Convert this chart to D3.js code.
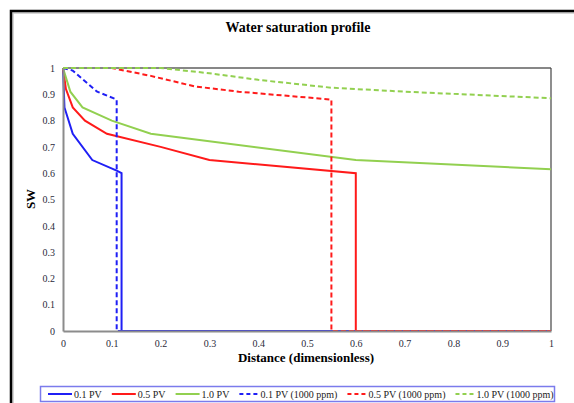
<!DOCTYPE html>
<html>
<head>
<meta charset="utf-8">
<script src="https://cdn.jsdelivr.net/npm/d3@7"></script>
<style>
  body { margin: 0; background: #fff; }
  svg text { font-family: "Liberation Serif", "DejaVu Serif", "Times New Roman", serif !important; }
</style>
</head>
<body>
<script>
// Data (distance, Sw)
const pv01 = [[0, 1], [0.003, 0.85], [0.02, 0.75], [0.06, 0.65], [0.11, 0.61], [0.12, 0.6], [0.12, 0], [1, 0]];
const pv05 = [[0, 1], [0.006, 0.92], [0.02, 0.85], [0.045, 0.8], [0.09, 0.75], [0.2, 0.7], [0.3, 0.65], [0.6, 0.6], [0.6, 0], [1, 0]];
const pv10 = [[0, 1], [0.015, 0.91], [0.04, 0.85], [0.1, 0.8], [0.18, 0.75], [0.6, 0.65], [1, 0.615]];
const pv01ppm = [[0, 1], [0.02, 0.99], [0.07, 0.91], [0.11, 0.88], [0.11, 0], [1, 0]];
const pv05ppm = [[0, 1], [0.1, 1], [0.18, 0.97], [0.27, 0.93], [0.36, 0.91], [0.55, 0.88], [0.55, 0], [1, 0]];
const pv10ppm = [[0, 1], [0.2, 1], [0.3, 0.98], [0.4, 0.955], [0.55, 0.925], [0.7, 0.91], [1, 0.885]];

const seriesNames = ["0.1 PV", "0.5 PV", "1.0 PV", "0.1 PV (1000 ppm)", "0.5 PV (1000 ppm)", "1.0 PV (1000 ppm)"];
const seriesValues = [pv01, pv05, pv10, pv01ppm, pv05ppm, pv10ppm];
const seriesColors = ["#1f1ff5", "#ff1a1a", "#92d050", "#1f1ff5", "#ff1a1a", "#92d050"];
const seriesDashed = [false, false, false, true, true, true];
const xTicks = [0, 0.1, 0.2, 0.3, 0.4, 0.5, 0.6, 0.7, 0.8, 0.9, 1];
const yTicks = [0, 0.1, 0.2, 0.3, 0.4, 0.5, 0.6, 0.7, 0.8, 0.9, 1];

// Dimensions
const width = 574;
const height = 403;
const margin = { top: 68, right: 23, bottom: 72, left: 63 };

const svg = d3.select("body")
  .append("svg")
  .attr("width", width)
  .attr("height", height)
  .style("display", "block");

// outer frame
svg.append("rect")
  .attr("x", 13).attr("y", 13)
  .attr("width", 700).attr("height", 500)
  .attr("fill", "none")
  .attr("stroke", "#c8c8c8")
  .attr("stroke-width", 1.5);
svg.append("rect")
  .attr("x", 11).attr("y", 11)
  .attr("width", 700).attr("height", 500)
  .attr("fill", "none")
  .attr("stroke", "#000")
  .attr("stroke-width", 2.5);

// Scales
const xScale = d3.scaleLinear()
  .domain([0, 1])
  .range([margin.left, width - margin.right]);

const yScale = d3.scaleLinear()
  .domain([0, 1])
  .range([height - margin.bottom, margin.top]);

// plot border (top and right)
svg.append("line")
  .attr("x1", xScale(0)).attr("x2", xScale(1))
  .attr("y1", yScale(1)).attr("y2", yScale(1))
  .attr("stroke", "#111").attr("stroke-width", 1.2);
svg.append("line")
  .attr("x1", xScale(1)).attr("x2", xScale(1))
  .attr("y1", yScale(1)).attr("y2", yScale(0))
  .attr("stroke", "#444").attr("stroke-width", 1.2);

// Lines
const line = d3.line()
  .x(d => xScale(d[0]))
  .y(d => yScale(d[1]));

svg.selectAll(".series")
  .data(seriesValues)
  .enter()
  .append("path")
  .attr("class", "series")
  .attr("d", d => line(d))
  .attr("fill", "none")
  .attr("stroke", (d, i) => seriesColors[i])
  .attr("stroke-width", 2)
  .attr("stroke-dasharray", (d, i) => seriesDashed[i] ? "5,3" : null);

// Axes
const xAxis = d3.axisBottom(xScale).tickValues(xTicks).tickSize(0).tickPadding(9).tickFormat(d3.format("~g"));
const yAxis = d3.axisLeft(yScale).tickValues(yTicks).tickSize(0).tickPadding(8).tickFormat(d3.format("~g"));

const gx = svg.append("g")
  .attr("transform", `translate(0,${height - margin.bottom})`)
  .call(xAxis);
const gy = svg.append("g")
  .attr("transform", `translate(${margin.left},0)`)
  .call(yAxis);

[gx, gy].forEach(g => {
  g.attr("font-family", null).attr("font-size", null);
  g.select(".domain").attr("stroke", "#8c8c8c").attr("stroke-width", 2);
  g.selectAll("text")
    .attr("fill", "#2a2a3a")
    .style("font-size", "10px");
});

// Title
svg.append("text")
  .attr("x", 298)
  .attr("y", 32)
  .attr("text-anchor", "middle")
  .style("font-weight", "bold")
  .style("font-size", "14px")
  .text("Water saturation profile");

// Axis labels
svg.append("text")
  .attr("x", 306)
  .attr("y", 362)
  .attr("text-anchor", "middle")
  .style("font-weight", "bold")
  .style("font-size", "13px")
  .text("Distance (dimensionless)");

svg.append("text")
  .attr("transform", "rotate(-90)")
  .attr("x", -199)
  .attr("y", 35)
  .attr("text-anchor", "middle")
  .style("font-weight", "bold")
  .style("font-size", "13px")
  .text("SW");

// Legend
const legend = svg.append("g");
legend.append("rect")
  .attr("x", 40.5).attr("y", 386.5)
  .attr("width", 514).attr("height", 15)
  .attr("fill", "#fff")
  .attr("stroke", "#7b7bec")
  .attr("stroke-width", 1.5);

let lx = 48;
seriesNames.forEach((name, i) => {
  const sw = seriesDashed[i] ? 19 : 24;
  legend.append("line")
    .attr("x1", lx).attr("x2", lx + sw)
    .attr("y1", 394).attr("y2", 394)
    .attr("stroke", seriesColors[i])
    .attr("stroke-width", 2)
    .attr("stroke-dasharray", seriesDashed[i] ? "4,3" : null);
  const t = legend.append("text")
    .attr("x", lx + sw + 2)
    .attr("y", 397.5)
    .attr("fill", "#222")
    .style("font-size", "10px")
    .text(name);
  lx += sw + 2 + t.node().getComputedTextLength() + 10;
});
</script>
</body>
</html>
